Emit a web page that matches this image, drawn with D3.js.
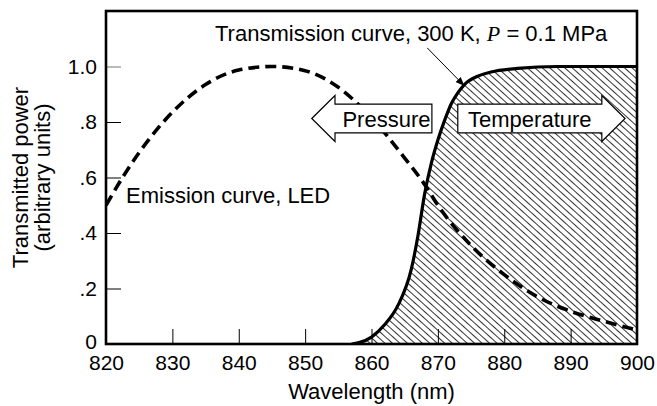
<!DOCTYPE html>
<html>
<head>
<meta charset="utf-8">
<script src="https://cdn.jsdelivr.net/npm/d3@7"></script>
<style>
    body { margin: 0; background: #fff; }
    svg text { font-family: "Liberation Sans", Arial, Helvetica, sans-serif; fill: #000; }
</style>
</head>
<body>
<svg id="chart" width="657" height="406"></svg>
<script>
(function () {
    'use strict';

    // data
    var xTicks = [820, 830, 840, 850, 860, 870, 880, 890, 900];
    var yTicks = [0, 0.2, 0.4, 0.6, 0.8, 1.0];
    var yTickLabels = ['0', '.2', '.4', '.6', '.8', '1.0'];

    var emissionWl = [820, 822.5, 825, 830, 835, 840, 845, 850, 855, 860, 865, 868, 870, 875, 880, 885, 890, 895, 900];
    var emissionVal = [0.5, 0.6, 0.69, 0.835, 0.935, 0.987, 1.0, 0.985, 0.925, 0.815, 0.67, 0.575, 0.5, 0.355, 0.25, 0.17, 0.118, 0.082, 0.05];

    var transWl = [857, 858, 860, 862, 864, 866, 867, 868, 869, 870, 871, 872, 873, 874, 876, 878, 882, 888, 900];
    var transVal = [0, 0.004, 0.025, 0.07, 0.14, 0.27, 0.39, 0.54, 0.65, 0.735, 0.805, 0.865, 0.905, 0.935, 0.965, 0.98, 0.993, 1.0, 1.0];

    // annotation anchors, in data units
    var pressureArrow = { tip: 851, base: 854.5, end: 869.1, y: 0.8126 };
    var tempArrow = { start: 873, base: 894.7, tip: 898.2, y: 0.8126 };
    var leader = { x1: 868.4, y1: 1.067, x2: 874.0, y2: 0.93 };

    // layout
    var W = 657, H = 406,
        m = { top: 11, right: 20, bottom: 62, left: 106 },
        fontSize = 22;

    var svg = d3.select('#chart');

    var x = d3.scaleLinear().domain([820, 900]).range([m.left, W - m.right]);
    var y = d3.scaleLinear().domain([0, 1.2]).range([H - m.bottom, m.top]);

    var defs = svg.append('defs');

    defs.append('clipPath').attr('id', 'plot-clip')
        .append('rect')
        .attr('x', x(820)).attr('y', y(1.2))
        .attr('width', x(900) - x(820)).attr('height', y(0) - y(1.2));

    // diagonal hatching
    var hatch = defs.append('pattern')
        .attr('id', 'hatch')
        .attr('patternUnits', 'userSpaceOnUse')
        .attr('width', 10).attr('height', 5)
        .attr('patternTransform', 'rotate(42)');
    hatch.append('line')
        .attr('x1', 0).attr('y1', 2.5).attr('x2', 10).attr('y2', 2.5)
        .attr('stroke', '#000').attr('stroke-width', 0.8);

    var plot = svg.append('g').attr('clip-path', 'url(#plot-clip)');

    var transData = d3.zip(transWl, transVal),
        emissionData = d3.zip(emissionWl, emissionVal);

    var area = d3.area()
        .x(function (d) { return x(d[0]); })
        .y0(y(0))
        .y1(function (d) { return y(d[1]); })
        .curve(d3.curveMonotoneX);

    var line = d3.line()
        .x(function (d) { return x(d[0]); })
        .y(function (d) { return y(d[1]); })
        .curve(d3.curveMonotoneX);

    plot.append('path')
        .datum(transData)
        .attr('d', area)
        .attr('fill', 'url(#hatch)');

    plot.append('path')
        .datum(transData)
        .attr('d', line)
        .attr('fill', 'none')
        .attr('stroke', '#000')
        .attr('stroke-width', 3.2);

    plot.append('path')
        .datum(emissionData)
        .attr('d', line)
        .attr('fill', 'none')
        .attr('stroke', '#000')
        .attr('stroke-width', 3.6)
        .attr('stroke-dasharray', '11,6');

    // block arrows
    function blockArrow(pts) {
        return 'M' + pts.map(function (p) { return p.join(','); }).join('L') + 'Z';
    }

    var headH = 0.083, boxH = 0.052;

    var pa = pressureArrow;
    svg.append('path')
        .attr('d', blockArrow([
            [x(pa.tip), y(pa.y)],
            [x(pa.base), y(pa.y + headH)],
            [x(pa.base), y(pa.y + boxH)],
            [x(pa.end), y(pa.y + boxH)],
            [x(pa.end), y(pa.y - boxH)],
            [x(pa.base), y(pa.y - boxH)],
            [x(pa.base), y(pa.y - headH)]
        ]))
        .attr('fill', '#fff').attr('stroke', '#000').attr('stroke-width', 1.2);

    var ta = tempArrow;
    svg.append('path')
        .attr('d', blockArrow([
            [x(ta.start), y(ta.y + boxH)],
            [x(ta.base), y(ta.y + boxH)],
            [x(ta.base), y(ta.y + headH)],
            [x(ta.tip), y(ta.y)],
            [x(ta.base), y(ta.y - headH)],
            [x(ta.base), y(ta.y - boxH)],
            [x(ta.start), y(ta.y - boxH)]
        ]))
        .attr('fill', '#fff').attr('stroke', '#000').attr('stroke-width', 1.2);

    svg.append('text')
        .attr('x', (x(pa.base) + x(pa.end)) / 2 + 3)
        .attr('y', y(pa.y) + 8)
        .attr('text-anchor', 'middle')
        .attr('font-size', fontSize)
        .text('Pressure');

    svg.append('text')
        .attr('x', (x(ta.start) + x(ta.base)) / 2)
        .attr('y', y(ta.y) + 8)
        .attr('text-anchor', 'middle')
        .attr('font-size', fontSize)
        .text('Temperature');

    // leader arrow for the transmission label
    defs.append('marker')
        .attr('id', 'head')
        .attr('viewBox', '0 0 10 10')
        .attr('refX', 10).attr('refY', 5)
        .attr('markerWidth', 9).attr('markerHeight', 9)
        .attr('markerUnits', 'userSpaceOnUse')
        .attr('orient', 'auto')
        .append('path')
        .attr('d', 'M0,1L10,5L0,9Z')
        .attr('fill', '#000');

    svg.append('line')
        .attr('x1', x(leader.x1)).attr('y1', y(leader.y1))
        .attr('x2', x(leader.x2)).attr('y2', y(leader.y2))
        .attr('stroke', '#000').attr('stroke-width', 1)
        .attr('marker-end', 'url(#head)');

    var tl = svg.append('text')
        .attr('x', 215).attr('y', 41)
        .attr('font-size', fontSize);
    tl.append('tspan').text('Transmission curve, 300 K, ');
    tl.append('tspan')
        .style('font-family', '"Liberation Serif", "Times New Roman", serif')
        .style('font-style', 'italic')
        .text('P');
    tl.append('tspan').text(' = 0.1 MPa');

    svg.append('text')
        .attr('x', 126).attr('y', 203)
        .attr('font-size', fontSize)
        .text('Emission curve, LED');

    // axes: inward ticks, frame drawn on top
    var xAxis = svg.append('g')
        .attr('transform', 'translate(0,' + y(0) + ')')
        .call(d3.axisBottom(x).tickValues(xTicks).tickSize(-15).tickPadding(11).tickFormat(d3.format('d')));

    var yAxis = svg.append('g')
        .attr('transform', 'translate(' + x(820) + ',0)')
        .call(d3.axisLeft(y).tickValues(yTicks).tickSize(-15).tickPadding(9)
            .tickFormat(function (d, i) { return yTickLabels[i]; }));

    [xAxis, yAxis].forEach(function (g) {
        g.select('.domain').remove();
        g.selectAll('.tick line').attr('stroke', '#000').attr('stroke-width', 1);
        g.selectAll('.tick text')
            .attr('font-size', 21)
            .style('font-family', '"Liberation Sans", Arial, sans-serif')
            .attr('fill', '#000');
    });
    yAxis.selectAll('.tick').filter(function (d) { return d === 0; })
        .select('text').attr('dy', '0.22em');
    yAxis.selectAll('.tick').filter(function (d) { return d === 1.0; })
        .select('line').attr('stroke', '#777');

    svg.append('rect')
        .attr('x', x(820)).attr('y', y(1.2))
        .attr('width', x(900) - x(820)).attr('height', y(0) - y(1.2))
        .attr('fill', 'none')
        .attr('stroke', '#000')
        .attr('stroke-width', 2.6);

    // axis titles
    svg.append('text')
        .attr('x', (x(820) + x(900)) / 2).attr('y', 399)
        .attr('text-anchor', 'middle')
        .attr('font-size', fontSize)
        .text('Wavelength (nm)');

    var yMid = (y(0) + y(1.2)) / 2;
    svg.append('text')
        .attr('transform', 'translate(28,' + yMid + ') rotate(-90)')
        .attr('text-anchor', 'middle')
        .attr('font-size', fontSize)
        .text('Transmitted power');
    svg.append('text')
        .attr('transform', 'translate(50,' + yMid + ') rotate(-90)')
        .attr('text-anchor', 'middle')
        .attr('font-size', fontSize)
        .text('(arbitrary units)');
}());
</script>
</body>
</html>
